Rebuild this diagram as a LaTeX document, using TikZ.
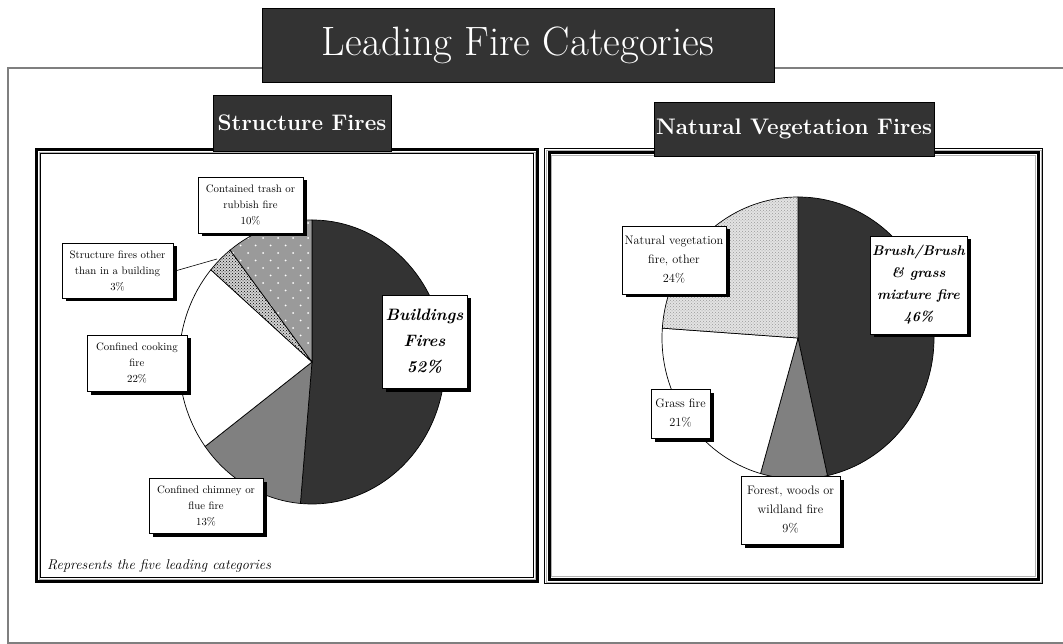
\documentclass[tikz,border=0pt]{standalone}
\usepackage{fontspec}
\usetikzlibrary{patterns,shadows}
\definecolor{dark}{HTML}{333333}
\definecolor{midgray}{HTML}{808080}
\definecolor{dotgray}{HTML}{9A9A9A}
\definecolor{framegray}{HTML}{7F7F7F}
\begin{document}
\begin{tikzpicture}[x=1pt,y=-1pt,
  hdr/.style={fill=dark,draw=black,line width=0.8pt,text=white,inner sep=0pt},
  lbl/.style={draw=black,line width=0.6pt,fill=white,inner sep=0pt,align=center,
    drop shadow={shadow xshift=3.5pt,shadow yshift=-3.5pt,fill=black,opacity=1}},
  lsmall/.style={font=\fontsize{10.8}{16}\selectfont\addfontfeature{LetterSpace=5}},
  rsmall/.style={font=\fontsize{12.3}{19}\selectfont},
  slice/.style={draw=black,line width=0.7pt},
  lp/.style={x radius=133,y radius=142},
  rp/.style={x radius=136,y radius=141},
]
\useasboundingbox (0,0) rectangle (1063,644);
% outer frame
\draw[framegray,line width=1.2pt] (1063,68) -- (8,68) -- (8,643) -- (1063,643);
% left panel frame
\draw[line width=3pt] (36.5,149.5) rectangle (537.5,581.5);
\draw[gray!60,line width=0.8pt] (39,152) rectangle (535,579);
\draw[line width=0.6pt] (40.5,153.5) rectangle (533.5,577.5);
% right panel frame
\draw[line width=0.8pt] (544.5,148.5) rectangle (1042.5,583.5);
\draw[gray!60,line width=0.8pt] (546,150) rectangle (1041,582);
\draw[line width=3pt] (549,153) rectangle (1038,579);
\draw[gray!60,line width=0.8pt] (551.5,155.5) rectangle (1035.5,576.5);

% title and headers
\node[hdr,minimum width=512,minimum height=74,font=\fontsize{41}{44}\selectfont] (title) at (518,45) {Leading Fire Categories};
\node[hdr,minimum width=178,minimum height=56,font=\bfseries\fontsize{22.5}{24}\selectfont] (sfh) at (302,123) {Structure Fires};
\node[hdr,minimum width=280,minimum height=54,font=\bfseries\fontsize{22.5}{24}\selectfont] (nvh) at (794,129) {Natural Vegetation Fires};

% left pie
\begin{scope}[shift={(312,362)},y=1pt]
  \filldraw[slice,fill=dark] (0,0) -- (90:133 and 142) arc[start angle=90,end angle=-95,lp] -- cycle;
  \filldraw[slice,fill=midgray] (0,0) -- (-95:133 and 142) arc[start angle=-95,end angle=-143.5,lp] -- cycle;
  \filldraw[slice,fill=white] (0,0) -- (-143.5:133 and 142) arc[start angle=-143.5,end angle=-220.5,lp] -- cycle;
  \fill[gray!35] (0,0) -- (-220.5:133 and 142) arc[start angle=-220.5,end angle=-232,lp] -- cycle;
  \fill[pattern=crosshatch dots,pattern color=black] (0,0) -- (-220.5:133 and 142) arc[start angle=-220.5,end angle=-232,lp] -- cycle;
  \draw[slice] (0,0) -- (-220.5:133 and 142) arc[start angle=-220.5,end angle=-232,lp] -- cycle;
  \begin{scope}
    \clip (0,0) -- (-232:133 and 142) arc[start angle=-232,end angle=-270,lp] -- cycle;
    \fill[dotgray] (-200,0) rectangle (0,160);
    \foreach \i in {0,...,21} {
      \foreach \j in {0,...,13} {
        \pgfmathsetmacro\xx{-4-\j*15-mod(\i,2)*7.5}
        \pgfmathsetmacro\yy{4+\i*7.5}
        \fill[white] (\xx,\yy) circle[radius=1];
      }
    }
  \end{scope}
  \draw[slice] (0,0) -- (-232:133 and 142) arc[start angle=-232,end angle=-270,lp] -- cycle;
\end{scope}

% right pie
\begin{scope}[shift={(798,338)},y=1pt]
  \filldraw[slice,fill=dark] (0,0) -- (90:136 and 141) arc[start angle=90,end angle=-77.5,rp] -- cycle;
  \filldraw[slice,fill=midgray] (0,0) -- (-77.5:136 and 141) arc[start angle=-77.5,end angle=-106,rp] -- cycle;
  \filldraw[slice,fill=white] (0,0) -- (-106:136 and 141) arc[start angle=-106,end angle=-184,rp] -- cycle;
  \fill[gray!22] (0,0) -- (-184:136 and 141) arc[start angle=-184,end angle=-270,rp] -- cycle;
  \fill[pattern=crosshatch dots,pattern color=gray!80] (0,0) -- (-184:136 and 141) arc[start angle=-184,end angle=-270,rp] -- cycle;
  \draw[slice] (0,0) -- (-184:136 and 141) arc[start angle=-184,end angle=-270,rp] -- cycle;
\end{scope}

% left labels
\node[lbl,lsmall,minimum width=105,minimum height=56] (trash) at (250.5,205) {Contained trash or\\rubbish fire\\10\%};
\node[lbl,lsmall,minimum width=111,minimum height=55] (other) at (117.5,270.5) {Structure fires other\\than in a building\\3\%};
\node[lbl,lsmall,minimum width=100,minimum height=56] (cook) at (137,363) {Confined cooking\\fire\\22\%};
\node[lbl,lsmall,minimum width=114,minimum height=55] (chim) at (206,505.5) {Confined chimney or\\flue fire\\13\%};
\node[lbl,minimum width=85,minimum height=93,font=\bfseries\itshape\fontsize{16.5}{26}\selectfont] (bld) at (424.5,341.5) {Buildings\\Fires\\52\%};
\coordinate (ldr) at (217,259);
\draw[line width=0.6pt] (other.east) ++(3.5,0) -- (ldr);

% right labels
\node[lbl,rsmall,minimum width=104,minimum height=68] (nvo) at (674,260) {Natural vegetation\\fire, other\\24\%};
\node[lbl,minimum width=97,minimum height=98,font=\bfseries\itshape\fontsize{14}{22}\selectfont] (brush) at (918.5,285) {Brush/Brush\\\&{} grass\\mixture fire\\46\%};
\node[lbl,rsmall,minimum width=59,minimum height=49] (grass) at (680.5,413.5) {Grass fire\\21\%};
\node[lbl,rsmall,minimum width=99,minimum height=68] (forest) at (790.5,510) {Forest, woods or\\wildland fire\\9\%};

\node[anchor=west,inner sep=0pt,font=\itshape\fontsize{14.2}{16}\selectfont] (note) at (47,566) {Represents the five leading categories};
\end{tikzpicture}
\end{document}
